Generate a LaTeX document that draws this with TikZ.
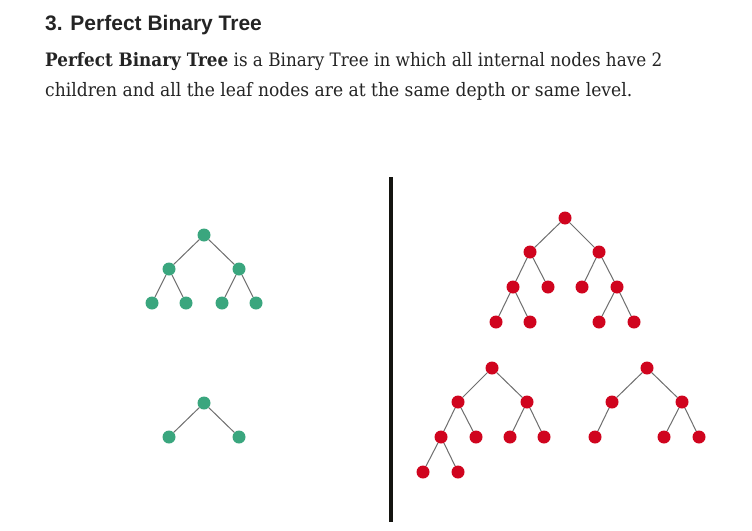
\documentclass[tikz,border=0pt]{standalone}
\usepackage{fontspec}
\usepackage{graphicx}
\setmainfont{DejaVu Serif}
\newfontfamily\headfont{Liberation Sans}
\definecolor{ink}{RGB}{36,36,36}
\definecolor{leafgreen}{RGB}{58,166,126}
\definecolor{nodered}{RGB}{208,4,30}
\definecolor{edgegray}{RGB}{110,110,110}
\definecolor{divider}{RGB}{20,20,16}
\tikzset{
  gnode/.style={circle, fill=leafgreen, inner sep=0pt, minimum size=13pt},
  rnode/.style={circle, fill=nodered, inner sep=0pt, minimum size=13pt},
  edge/.style={draw=edgegray, line width=1pt},
  textline/.style={anchor=base west, inner sep=0pt, text=ink},
}
\begin{document}
\begin{tikzpicture}[x=1pt, y=-1pt]
\useasboundingbox[fill=white] (0,0) rectangle (752,530);

% heading and description
\node[textline] (title) at (45,30) {\headfont\fontsize{21pt}{25pt}\selectfont\bfseries 3. Perfect Binary Tree};
\node[textline] (line1) at (45,66) {\resizebox{617pt}{\height}{\fontsize{18.5pt}{22pt}\selectfont\textbf{Perfect Binary Tree} is a Binary Tree in which all internal nodes have 2}};
\node[textline] (line2) at (45,96) {\resizebox{587pt}{\height}{\fontsize{18.5pt}{22pt}\selectfont children and all the leaf nodes are at the same depth or same level.}};

% divider
\coordinate (dtop) at (391,177);
\coordinate (dbot) at (391,522);
\draw[divider, line width=4pt] (dtop) -- (dbot);

% green tree, three levels
\node[gnode] (ga) at (204,235) {};
\node[gnode] (gb) at (169,269) {};
\node[gnode] (gc) at (239,269) {};
\node[gnode] (gd) at (152,303) {};
\node[gnode] (ge) at (186,303) {};
\node[gnode] (gf) at (222,303) {};
\node[gnode] (gg) at (256,303) {};
\draw[edge] (ga) -- (gb) (ga) -- (gc) (gb) -- (gd) (gb) -- (ge) (gc) -- (gf) (gc) -- (gg);

% green tree, two levels
\node[gnode] (sa) at (204,403) {};
\node[gnode] (sb) at (169,437) {};
\node[gnode] (sc) at (239,437) {};
\draw[edge] (sa) -- (sb) (sa) -- (sc);

% red tree, top
\node[rnode] (ra) at (565,218) {};
\node[rnode] (rb) at (530,252) {};
\node[rnode] (rc) at (599,252) {};
\node[rnode] (rd) at (513,287) {};
\node[rnode] (re) at (548,287) {};
\node[rnode] (rf) at (582,287) {};
\node[rnode] (rg) at (617,287) {};
\node[rnode] (rh) at (496,322) {};
\node[rnode] (ri) at (530,322) {};
\node[rnode] (rj) at (599,322) {};
\node[rnode] (rk) at (634,322) {};
\draw[edge] (ra) -- (rb) (ra) -- (rc) (rb) -- (rd) (rb) -- (re) (rc) -- (rf) (rc) -- (rg)
            (rd) -- (rh) (rd) -- (ri) (rg) -- (rj) (rg) -- (rk);

% red tree, bottom left
\node[rnode] (la) at (492,368) {};
\node[rnode] (lb) at (458,402) {};
\node[rnode] (lc) at (527,402) {};
\node[rnode] (ld) at (441,437) {};
\node[rnode] (le) at (476,437) {};
\node[rnode] (lf) at (510,437) {};
\node[rnode] (lg) at (544,437) {};
\node[rnode] (lh) at (423,472) {};
\node[rnode] (li) at (458,472) {};
\draw[edge] (la) -- (lb) (la) -- (lc) (lb) -- (ld) (lb) -- (le) (lc) -- (lf) (lc) -- (lg)
            (ld) -- (lh) (ld) -- (li);

% red tree, bottom right
\node[rnode] (ka) at (647,368) {};
\node[rnode] (kb) at (612,402) {};
\node[rnode] (kc) at (682,402) {};
\node[rnode] (kd) at (595,437) {};
\node[rnode] (ke) at (664,437) {};
\node[rnode] (kf) at (699,437) {};
\draw[edge] (ka) -- (kb) (ka) -- (kc) (kb) -- (kd) (kc) -- (ke) (kc) -- (kf);
\end{tikzpicture}
\end{document}
